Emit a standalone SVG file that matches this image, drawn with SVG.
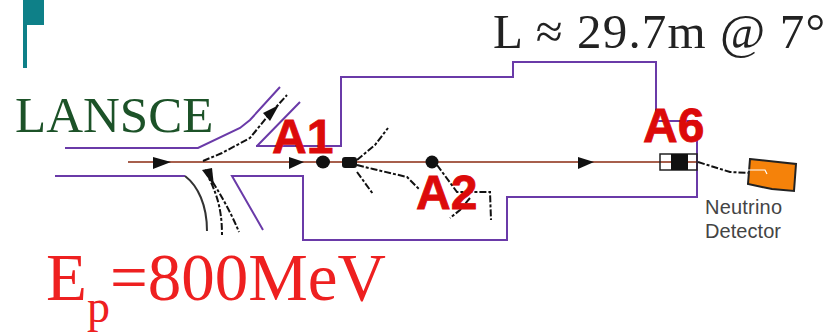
<svg xmlns="http://www.w3.org/2000/svg" width="828" height="333" viewBox="0 0 828 333">
<style>
.wall{fill:none;stroke:#6a3aa8;stroke-width:2}
.beam{fill:none;stroke:#8a2a10;stroke-width:1.6}
.dash{fill:none;stroke:#111;stroke-width:2;stroke-dasharray:7 2 3 2}
.dash2{fill:none;stroke:#333;stroke-width:2}
.ah{fill:#111}
.red{font-family:"Liberation Sans",Arial,sans-serif;font-weight:bold;font-size:48px;fill:#dc0a0a;stroke:#dc0a0a;stroke-width:.8}
.serif{font-family:"Liberation Serif","Times New Roman",serif}
.small{font-family:"Liberation Sans",Arial,sans-serif;font-size:20px;fill:#444}
</style>
<rect width="828" height="333" fill="#fff"/>
<g id="flag"><path d="M23 0H44V25H27V68H23Z" fill="#0e8088"/></g>
<g id="connectors">
<path class="wall" d="M65 148H198L240 128L250 120L280 87"/>
<path class="wall" d="M55 176H185"/>
<path class="wall" d="M257 146L300 102M256 146H341V77H513V62H656V121H697V197H507V240H303V176H232L263 230"/>
<path class="beam" d="M128 162H697"/>
<path class="dash" d="M203 161L222 153L250 138L267 117L287 95"/>
<path class="dash2" d="M185 176C198 186 207 205 207 231"/>
<path class="dash" d="M205 170C215 190 222 205 222 235"/>
<path class="dash" d="M205 170C218 190 230 210 239 232"/>
<path class="dash" d="M357 160L375 145L388 128"/>
<path class="dash" d="M357 165L373 169L407 177L420 190"/>
<path class="dash" d="M357 172L373 194"/>
<path class="dash" d="M437 165L457 192H490L491 220"/>
<path class="dash" d="M470 198L460 210L450 218"/>
<path class="dash" d="M698 162L730 172L773 174"/>
<path class="ah" d="M153 157L171 162L153 169Z"/>
<path class="ah" d="M289 157L304 162L289 169Z"/>
<path class="ah" d="M578 157L594 162L578 169Z"/>
<path class="ah" d="M279 105L263 113L270 121Z"/>
<path class="ah" d="M202 170L212 168L214 186Z"/>
</g>
<g id="A1"><ellipse cx="323" cy="162" rx="7" ry="6.5" fill="#111"/><text class="red" x="272" y="153">A1</text></g>
<g id="magnet2"><rect x="342" y="157" width="15" height="11" rx="3" fill="#111"/></g>
<g id="A2"><circle cx="432" cy="162" r="6.5" fill="#111"/><text class="red" x="416" y="209">A2</text></g>
<g id="A6">
<rect x="660" y="154" width="37" height="16" fill="none" stroke="#222" stroke-width="1.5"/>
<rect x="671" y="154" width="17" height="16" fill="#111"/>
<text class="red" x="643" y="142">A6</text>
</g>
<g id="detector">
<path d="M750 159L778 162L796 164L794 191L772 189L762 187L748 184Z" fill="#f5820a" stroke="#222" stroke-width="2"/>
<path d="M748 170H765L767 174" fill="none" stroke="#fff" stroke-width="1.2"/>
<text class="small" x="705" y="214" textLength="77">Neutrino</text>
<text class="small" x="705" y="238" textLength="76">Detector</text>
</g>
<g id="labels">
<text class="serif" x="15" y="132" font-size="51" fill="#1c5228">LANSCE</text>
<text class="serif" x="493" y="48" font-size="49" fill="#222" textLength="332">L ≈ 29.7m @ 7°</text>
<text class="serif" x="46" y="300" font-size="67" fill="#ee2020">E<tspan font-size="46" dy="22">p</tspan><tspan dy="-22">=800MeV</tspan></text>
</g>
</svg>
